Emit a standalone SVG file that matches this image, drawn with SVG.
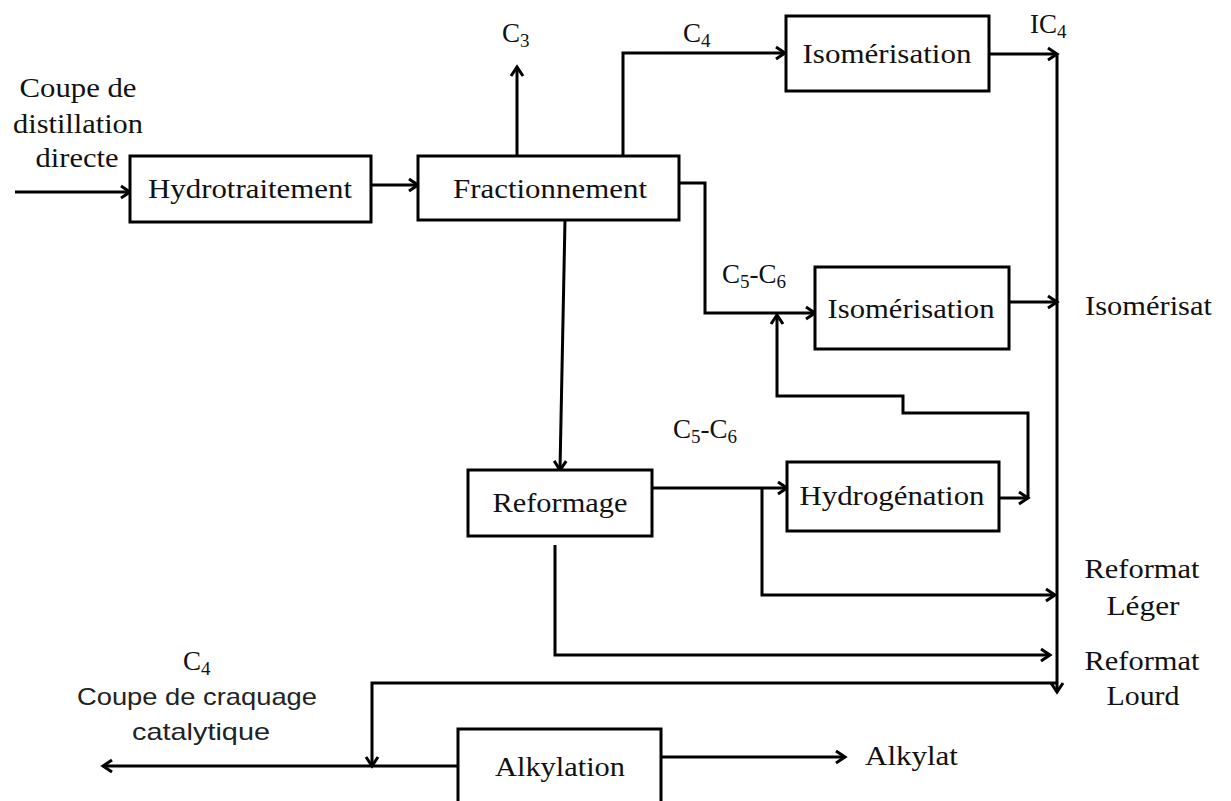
<svg xmlns="http://www.w3.org/2000/svg" width="1231" height="801" viewBox="0 0 1231 801">
<style>
.box{fill:#fff;stroke:#000;stroke-width:3}
.t{font-family:"Liberation Serif","Times New Roman",serif;font-size:27px;fill:#111}
.s{font-family:"Liberation Sans",Arial,sans-serif;font-size:24px;fill:#222}
.m{text-anchor:middle}
.sub{font-size:19px}
.c{fill:none;stroke:#000;stroke-width:3}
.a{marker-end:url(#ah)}
</style>
<defs>
<marker id="ah" markerWidth="16" markerHeight="16" refX="12" refY="8" orient="auto" markerUnits="userSpaceOnUse">
<path d="M3,2 L12,8 L3,14" fill="none" stroke="#000" stroke-width="3"/>
</marker>
</defs>
<rect width="1231" height="801" fill="#fff"/>
<g id="connectors">
<path class="c a" d="M15,192 H130"/>
<path class="c a" d="M371,185 H418"/>
<path class="c a" d="M517,156 V67"/>
<path class="c a" d="M623,156 V53 H785"/>
<path class="c a" d="M989,54 H1057"/>
<path class="c a" d="M679,183 H705 V313 H815"/>
<path class="c a" d="M1009,302 H1057"/>
<path class="c a" d="M565,220 L560,470"/>
<path class="c a" d="M652,488 H787"/>
<path class="c a" d="M762,488 V595 H1055"/>
<path class="c a" d="M999,498 H1028"/>
<path class="c a" d="M1028,498 V413 H903 V396 H777 V315"/>
<path class="c a" d="M555,545 V655 H1050"/>
<path class="c a" d="M1057,54 V692"/>
<path class="c a" d="M1057,683 H372 V766"/>
<path class="c a" d="M458,766 H103"/>
<path class="c a" d="M661,757 H845"/>
</g>
<g id="n-hydrotraitement">
<rect class="box" x="130" y="156" width="241" height="66"/>
<text class="t m" x="250" y="198" textLength="204" lengthAdjust="spacingAndGlyphs">Hydrotraitement</text>
</g>
<g id="n-fractionnement">
<rect class="box" x="418" y="156" width="261" height="64"/>
<text class="t m" x="550" y="198" textLength="194" lengthAdjust="spacingAndGlyphs">Fractionnement</text>
</g>
<g id="n-isomerisation1">
<rect class="box" x="786" y="16" width="203" height="75"/>
<text class="t m" x="887" y="63" textLength="169" lengthAdjust="spacingAndGlyphs">Isomérisation</text>
</g>
<g id="n-isomerisation2">
<rect class="box" x="815" y="267" width="194" height="82"/>
<text class="t m" x="911" y="318" textLength="167" lengthAdjust="spacingAndGlyphs">Isomérisation</text>
</g>
<g id="n-reformage">
<rect class="box" x="468" y="470" width="184" height="66"/>
<text class="t m" x="560" y="512" textLength="135" lengthAdjust="spacingAndGlyphs">Reformage</text>
</g>
<g id="n-hydrogenation">
<rect class="box" x="787" y="462" width="212" height="69"/>
<text class="t m" x="892" y="505" textLength="185" lengthAdjust="spacingAndGlyphs">Hydrogénation</text>
</g>
<g id="n-alkylation">
<rect class="box" x="458" y="729" width="203" height="90"/>
<text class="t m" x="560" y="776" textLength="130" lengthAdjust="spacingAndGlyphs">Alkylation</text>
</g>
<g id="labels">
<text class="t m" x="78" y="97" textLength="117" lengthAdjust="spacingAndGlyphs">Coupe de</text>
<text class="t m" x="78" y="133" textLength="130" lengthAdjust="spacingAndGlyphs">distillation</text>
<text class="t m" x="77" y="167" textLength="83" lengthAdjust="spacingAndGlyphs">directe</text>
<text class="t" x="502" y="42">C<tspan class="sub" dy="5">3</tspan></text>
<text class="t" x="683" y="42">C<tspan class="sub" dy="5">4</tspan></text>
<text class="t" x="1030" y="33">IC<tspan class="sub" dy="5">4</tspan></text>
<text class="t" x="722" y="283">C<tspan class="sub" dy="5">5</tspan><tspan dy="-5">-C</tspan><tspan class="sub" dy="5">6</tspan></text>
<text class="t" x="673" y="438">C<tspan class="sub" dy="5">5</tspan><tspan dy="-5">-C</tspan><tspan class="sub" dy="5">6</tspan></text>
<text class="t" x="1085" y="315" textLength="127" lengthAdjust="spacingAndGlyphs">Isomérisat</text>
<text class="t m" x="1142" y="578" textLength="115" lengthAdjust="spacingAndGlyphs">Reformat</text>
<text class="t m" x="1143" y="615" textLength="73" lengthAdjust="spacingAndGlyphs">Léger</text>
<text class="t m" x="1142" y="670" textLength="115" lengthAdjust="spacingAndGlyphs">Reformat</text>
<text class="t m" x="1143" y="705" textLength="73" lengthAdjust="spacingAndGlyphs">Lourd</text>
<text class="t" x="865" y="765" textLength="93" lengthAdjust="spacingAndGlyphs">Alkylat</text>
<text class="t" x="183" y="670">C<tspan class="sub" dy="5">4</tspan></text>
<text class="s m" x="197" y="705" textLength="240" lengthAdjust="spacingAndGlyphs">Coupe de craquage</text>
<text class="s m" x="201" y="740" textLength="138" lengthAdjust="spacingAndGlyphs">catalytique</text>
</g>
</svg>
